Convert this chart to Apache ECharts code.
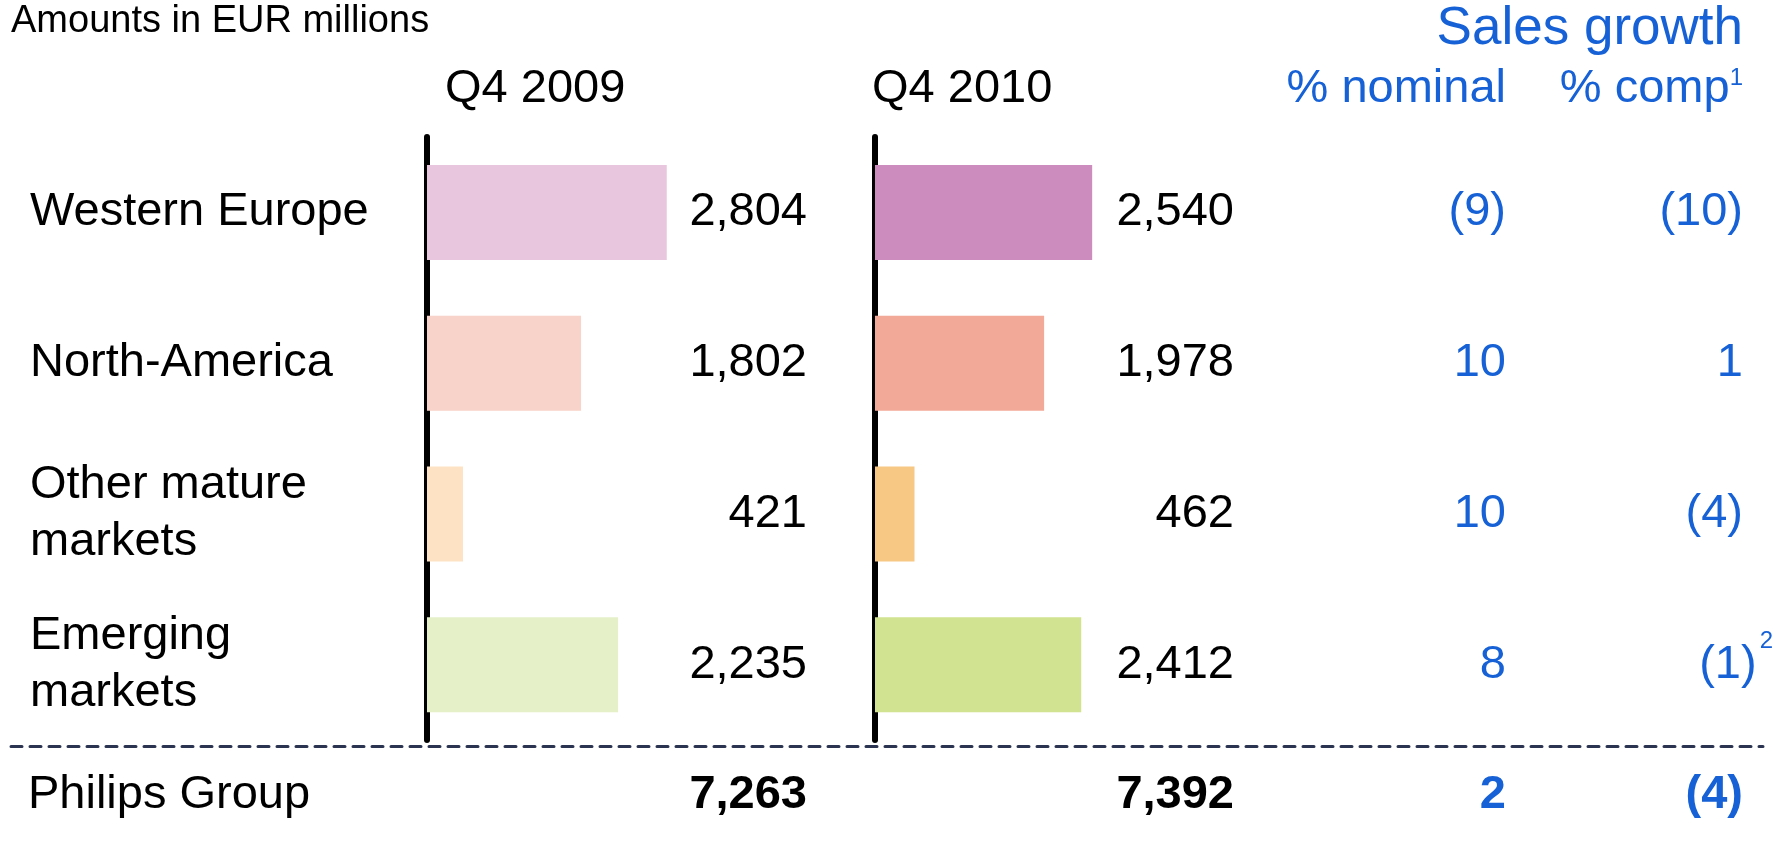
<!DOCTYPE html>
<html>
<head>
<meta charset="utf-8">
<script src="https://cdn.jsdelivr.net/npm/echarts@6/dist/echarts.min.js"></script>
<style>
  html, body { margin: 0; padding: 0; background: #fff; }
  #chart { width: 1775px; height: 848px; }
</style>
</head>
<body>
<div id="chart"></div>
<script>
var regions = ['Western Europe', 'North-America', 'Other mature\nmarkets', 'Emerging\nmarkets'];
var periods = ['Q4 2009', 'Q4 2010'];
var sales2009 = [2804, 1802, 421, 2235];
var sales2010 = [2540, 1978, 462, 2412];
var growthNominal = [-9, 10, 10, 8];
var growthComp = [-10, 1, -4, -1];
var compNotes = ['', '', '', '2'];
var totalLabel = ['Philips Group'];
var total2009 = [7263];
var total2010 = [7392];
var totalNominal = [2];
var totalComp = [-4];

var colors2009 = ['#e8c6de', '#f8d3c9', '#fde3c3', '#e5f0c8'];
var colors2010 = ['#cc8dbe', '#f3a997', '#f7c884', '#d1e391'];
var blue = '#1661d6';
var font = '"Liberation Sans", Arial, sans-serif';

function fmtAmount(v) { return v.toLocaleString('en-US'); }
function fmtGrowth(v) { return v < 0 ? '(' + Math.abs(v) + ')' : String(v); }

var chart = echarts.init(document.getElementById('chart'));

// text-only category axis (no line, no ticks)
function textAxis(grid, data, position, margin, align, style, extra) {
  var ax = {
    gridIndex: grid,
    type: 'category',
    inverse: true,
    position: position,
    data: data,
    axisLine: { show: false },
    axisTick: { show: false },
    splitLine: { show: false },
    axisLabel: Object.assign({
      interval: 0,
      margin: margin,
      align: align,
      fontFamily: font,
      fontSize: 47,
      color: '#000'
    }, style)
  };
  return Object.assign(ax, extra || {});
}

option = {
  backgroundColor: '#fff',
  animation: false,
  title: [
    { text: 'Amounts in EUR millions', left: 11, top: 3, padding: 0,
      textStyle: { fontFamily: font, fontSize: 38, lineHeight: 38, fontWeight: 'normal', color: '#000' } },
    { text: periods[0], left: 445, top: 66, padding: 0,
      textStyle: { fontFamily: font, fontSize: 47, lineHeight: 47, fontWeight: 'normal', color: '#000' } },
    { text: periods[1], left: 872, top: 66, padding: 0,
      textStyle: { fontFamily: font, fontSize: 47, lineHeight: 47, fontWeight: 'normal', color: '#000' } },
    { text: 'Sales growth', right: 32, top: 3, padding: 0,
      textStyle: { fontFamily: font, fontSize: 53, lineHeight: 53, fontWeight: 'normal', color: blue } },
    { text: '% nominal', right: 269, top: 66, padding: 0,
      textStyle: { fontFamily: font, fontSize: 47, lineHeight: 47, fontWeight: 'normal', color: blue } },
    { text: '% comp{sup|1}', right: 32, top: 66, padding: 0,
      textStyle: { fontFamily: font, fontSize: 47, lineHeight: 47, fontWeight: 'normal', color: blue,
        rich: { sup: { fontFamily: font, fontSize: 24, color: blue, verticalAlign: 'top', lineHeight: 24 } } } }
  ],
  grid: [
    { left: 427, top: 137, width: 342, height: 603, outerBoundsMode: 'none' },
    { left: 875, top: 137, width: 342, height: 603, outerBoundsMode: 'none' },
    { left: 11, right: 12, top: 746, height: 98, outerBoundsMode: 'none' }
  ],
  xAxis: [
    { gridIndex: 0, type: 'value', min: 0, max: 4000, show: false },
    { gridIndex: 1, type: 'value', min: 0, max: 4000, show: false },
    { gridIndex: 2, type: 'value', min: 0, max: 1, position: 'top',
      axisLine: { show: true, lineStyle: { color: '#2b3450', width: 3, type: [11, 8] } },
      axisTick: { show: false }, axisLabel: { show: false }, splitLine: { show: false } }
  ],
  yAxis: [
    // 0: Q4 2009 regions with the black axis line
    textAxis(0, regions, 'left', 394, 'left', { lineHeight: 57 },
      { offset: 3, axisLine: { show: true, lineStyle: { color: '#000', width: 6 } } }),
    // 1: Q4 2009 values
    textAxis(0, sales2009.map(fmtAmount), 'right', 38, 'right', {}),
    // 2: Q4 2010 axis line
    textAxis(1, regions, 'left', 8, 'right', { show: false },
      { offset: 4, axisLine: { show: true, lineStyle: { color: '#000', width: 6 } } }),
    // 3: Q4 2010 values
    textAxis(1, sales2010.map(fmtAmount), 'right', 17, 'right', {}),
    // 4: % nominal
    textAxis(1, growthNominal.map(fmtGrowth), 'right', 289, 'right', { color: blue }),
    // 5: % comp, footnote hangs past the column edge
    textAxis(1, growthComp.map(fmtGrowth), 'right', 526, 'right', {
      color: blue,
      formatter: function (v, i) { return compNotes[i] ? v + '{sup|' + compNotes[i] + '}' : v; },
      rich: { sup: { fontFamily: font, fontSize: 24, color: blue, verticalAlign: 'top', lineHeight: 24,
        padding: [-12, -30, 0, 3] } }
    }),
    // totals row
    textAxis(2, totalLabel, 'left', 0, 'left', {}, { offset: -17 }),
    textAxis(2, total2009.map(fmtAmount), 'left', 0, 'right', { fontWeight: 'bold' }, { offset: -796 }),
    textAxis(2, total2010.map(fmtAmount), 'left', 0, 'right', { fontWeight: 'bold' }, { offset: -1223 }),
    textAxis(2, totalNominal.map(fmtGrowth), 'left', 0, 'right', { fontWeight: 'bold', color: blue }, { offset: -1495 }),
    textAxis(2, totalComp.map(fmtGrowth), 'left', 0, 'right', { fontWeight: 'bold', color: blue }, { offset: -1732 })
  ],
  series: [
    {
      name: periods[0],
      type: 'bar',
      xAxisIndex: 0,
      yAxisIndex: 0,
      barWidth: 95,
      silent: true,
      data: sales2009.map(function (v, i) { return { value: v, itemStyle: { color: colors2009[i] } }; })
    },
    {
      name: periods[1],
      type: 'bar',
      xAxisIndex: 1,
      yAxisIndex: 2,
      barWidth: 95,
      silent: true,
      data: sales2010.map(function (v, i) { return { value: v, itemStyle: { color: colors2010[i] } }; })
    }
  ]
};
chart.setOption(option);
window.addEventListener('resize', function () { chart.resize(); });
</script>
</body>
</html>
